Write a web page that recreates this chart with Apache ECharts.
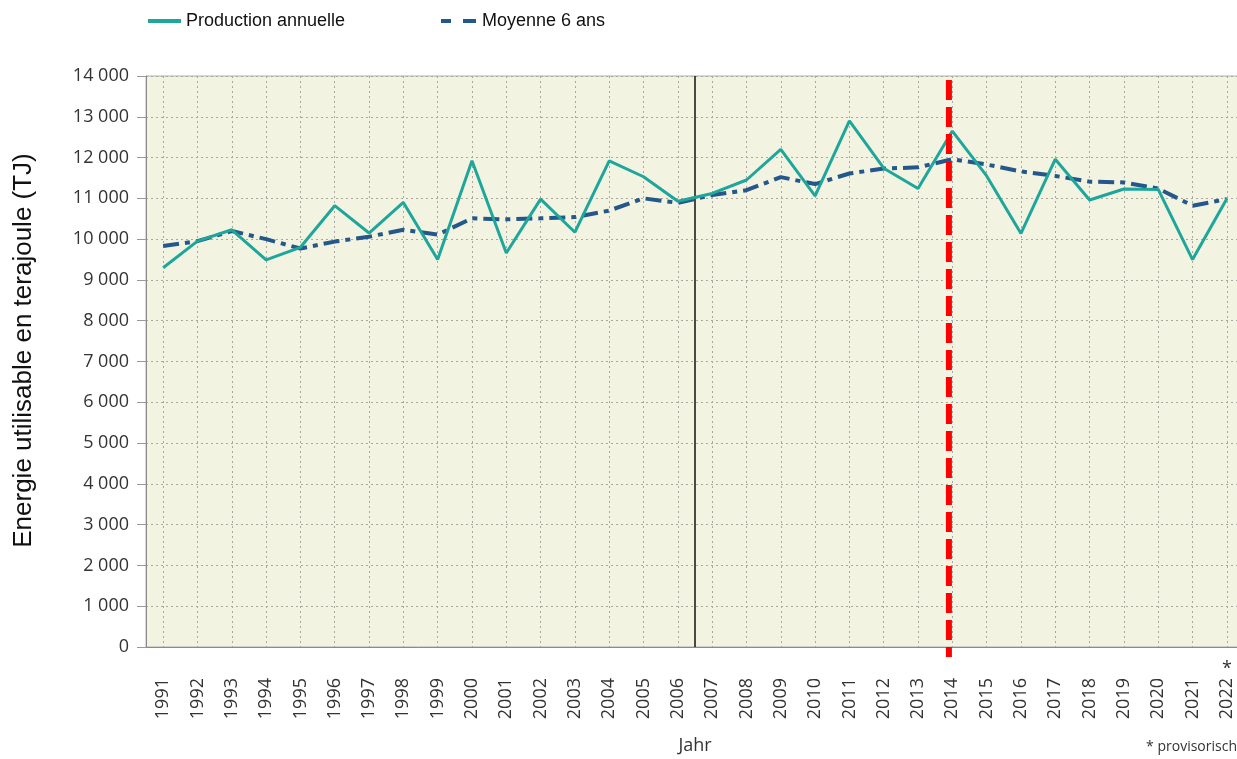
<!DOCTYPE html>
<html><head><meta charset="utf-8">
<script src="https://cdn.jsdelivr.net/npm/echarts@6/dist/echarts.min.js"></script>
<style>html,body{margin:0;padding:0;background:#fff}#c{width:1237px;height:759px}</style>
</head><body><div id="c"></div>
<script>
const years = ['1991','1992','1993','1994','1995','1996','1997','1998','1999','2000','2001','2002','2003','2004','2005','2006','2007','2008','2009','2010','2011','2012','2013','2014','2015','2016','2017','2018','2019','2020','2021','2022'];
const production = [9300,9950,10230,9490,9800,10820,10150,10900,9500,11920,9660,10980,10170,11920,11530,10930,11120,11450,12200,11060,12900,11740,11240,12650,11550,10140,11960,10960,11230,11220,9500,10990];
const moyenne = [9830,9950,10200,10000,9770,9940,10060,10230,10110,10510,10485,10510,10540,10700,11000,10890,11080,11200,11520,11350,11610,11730,11760,11960,11830,11660,11550,11410,11390,11240,10820,10980];
const seriesNames = ['Production annuelle','Moyenne 6 ans'];
const yAxisName = 'Energie utilisable en terajoule (TJ)';
const xAxisName = 'Jahr';
const footnote = '* provisorisch';
const provisionalYear = '2022';
const markerBlack = 15.5;   // between 2006 and 2007 (category index)
const markerRed = 22.9;     // at 2014 (category index)

const chart = echarts.init(document.getElementById('c'), null, {renderer:'canvas'});
const fmt = v => String(v).replace(/\B(?=(\d{3})+(?!\d))/g, ' ');
const teal = '#1ea69b', navy = '#24578a';
const gridCol = '#a9a9a0';
const G = {left:146, top:76, width:1098, bottom:112};
const band = G.width / years.length;
chart.setOption({
  animation:false,
  backgroundColor:'#ffffff',
  legend:[
    {left:143, top:7, itemWidth:33, itemHeight:4, icon:'rect', data:[seriesNames[0]],
     textStyle:{fontFamily:'Liberation Sans', fontSize:18, color:'#111'}},
    {left:436, top:7, itemWidth:37, itemHeight:4, icon:'path://M0,0h10v4h-10z M22,0h13v4h-13z', data:[seriesNames[1]],
     textStyle:{fontFamily:'Liberation Sans', fontSize:18, color:'#111'}}
  ],
  grid:[
    {left:G.left, top:G.top, width:G.width, bottom:G.bottom, outerBoundsMode:'none', containLabel:false,
     show:true, backgroundColor:'#f3f3e2', borderColor:'#b0b0b0', borderWidth:1, z:0},
    {left:G.left + band/2, top:G.top, width:G.width - band, bottom:G.bottom, outerBoundsMode:'none', containLabel:false, show:false}
  ],
  xAxis:[
    {type:'category', data:years, boundaryGap:true, gridIndex:0,
     name:xAxisName, nameLocation:'middle', nameGap:90,
     nameTextStyle:{fontFamily:'Open Sans', fontSize:18, color:'#333'},
     axisLine:{onZero:false, lineStyle:{color:'#8a8a8a', width:1}},
     axisTick:{alignWithLabel:true, length:8, lineStyle:{color:'#999'}},
     axisLabel:{rotate:90, margin:31, interval:0, fontFamily:'Open Sans', fontSize:18, color:'#333'},
     splitLine:{show:false}},
    {type:'category', data:years, boundaryGap:false, gridIndex:1,
     axisLine:{show:false, onZero:false}, axisTick:{show:false}, axisLabel:{show:false},
     splitLine:{show:true, interval:0, lineStyle:{color:gridCol, type:[2,3], width:1}}},
    {type:'value', min:-0.5, max:31.5, show:false, gridIndex:0, axisLine:{onZero:false}}
  ],
  yAxis:[
    {type:'value', min:0, max:14000, interval:1000, gridIndex:0,
    name:yAxisName, nameLocation:'middle', nameGap:109, nameRotate:90,
    nameTextStyle:{fontFamily:'Liberation Sans', fontSize:26, color:'#111', padding:[0,0,0,22]},
    axisLine:{show:true, onZero:false, lineStyle:{color:'#8a8a8a'}},
    axisTick:{show:true, length:9, lineStyle:{color:'#999'}},
    axisLabel:{formatter:fmt, margin:17, fontFamily:'Open Sans', fontSize:18, color:'#333'},
    splitLine:{lineStyle:{color:gridCol, type:[2,3], width:1}}},
    {type:'value', min:0, max:14000, gridIndex:1, axisLine:{show:false, onZero:false}, axisTick:{show:false}, axisLabel:{show:false}, splitLine:{show:false}}
  ],
  series:[
    {name:seriesNames[1], type:'line', data:moyenne, symbol:'none', z:2,
     lineStyle:{color:navy, width:4, type:[16,6,5,6]}, itemStyle:{color:navy}},
    {name:seriesNames[0], type:'line', data:production, symbol:'none', z:3,
     lineStyle:{color:teal, width:3}, itemStyle:{color:teal}},
    {type:'line', xAxisIndex:2, yAxisIndex:0, data:[], silent:true},
    {type:'line', xAxisIndex:1, yAxisIndex:1, data:[], silent:true}
  ]
});

const xb = chart.convertToPixel({xAxisIndex:2}, markerBlack);
const xr = chart.convertToPixel({xAxisIndex:2}, markerRed);
const yTop = chart.convertToPixel({yAxisIndex:0}, 14000);
const y0 = chart.convertToPixel({yAxisIndex:0}, 0);
const xp = chart.convertToPixel({xAxisIndex:0}, provisionalYear);
chart.setOption({graphic:[
  {type:'line', z:1, shape:{x1:xb, y1:yTop, x2:xb, y2:y0}, style:{stroke:'#111', lineWidth:1.5}},
  {type:'line', z:100, shape:{x1:xr, y1:yTop+4, x2:xr, y2:y0+10}, style:{stroke:'#ff0000', lineWidth:6, lineDash:[20,7]}},
  {type:'text', z:100, x:xp, y:y0+13, style:{text:'*', font:'18px "Open Sans"', fill:'#333', textAlign:'center'}},
  {type:'text', z:100, right:0, top:740, style:{text:footnote, font:'14px "Open Sans"', fill:'#333'}}
]});
</script></body></html>
